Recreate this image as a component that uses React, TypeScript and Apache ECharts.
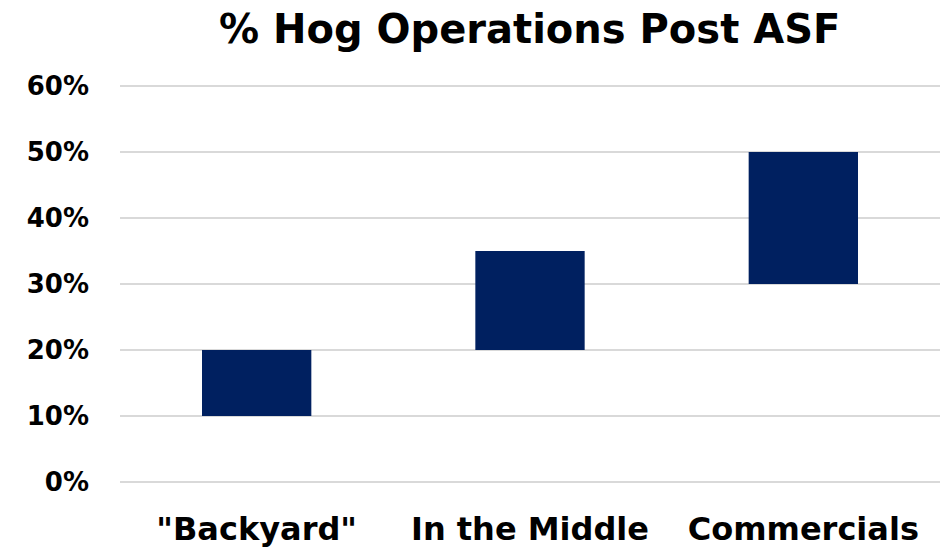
import React, { useEffect, useRef } from "react";
import * as echarts from "echarts";

const categories = ['"Backyard"', "In the Middle", "Commercials"];
const lowValues = [10, 20, 30];
const highValues = [20, 35, 50];
const yTicks = [0, 10, 20, 30, 40, 50, 60];

const FONT = "'DejaVu Sans', sans-serif";

export default function App() {
  const ref = useRef<HTMLDivElement>(null);
  useEffect(() => {
    if (!ref.current) return;
    const chart = echarts.init(ref.current, undefined, { renderer: "svg" });
    const spans = highValues.map((h, i) => h - lowValues[i]);
    chart.setOption({
      animation: false,
      title: {
        text: "% Hog Operations Post ASF",
        left: 214,
        top: 4,
        textStyle: { fontFamily: FONT, fontWeight: "bold", fontSize: 40, color: "#000" },
      },
      grid: { left: 120, right: 8, top: 86, bottom: 69, containLabel: false },
      xAxis: {
        type: "category",
        data: categories,
        axisLine: { show: false },
        axisTick: { show: false },
        axisLabel: {
          fontFamily: FONT,
          fontWeight: "bold",
          fontSize: 32,
          color: "#000",
          margin: 31,
          interval: 0,
        },
      },
      yAxis: {
        type: "value",
        min: yTicks[0],
        max: yTicks[yTicks.length - 1],
        interval: 10,
        axisLine: { show: false },
        axisTick: { show: false },
        splitLine: { lineStyle: { color: "#d9d9d9", width: 2 } },
        axisLabel: {
          formatter: (v: number) => `${v}%`,
          fontFamily: FONT,
          fontWeight: "bold",
          fontSize: 26,
          color: "#000",
          margin: 31,
        },
      },
      series: [
        {
          type: "bar",
          stack: "s",
          data: lowValues,
          itemStyle: { color: "transparent" },
          barWidth: "40%",
          silent: true,
        },
        {
          type: "bar",
          stack: "s",
          data: spans,
          itemStyle: { color: "#002060" },
          barWidth: "40%",
        },
      ],
    });
    return () => chart.dispose();
  }, []);
  return (
    <div
      ref={ref}
      style={{ position: "fixed", left: 0, top: 0, width: 948, height: 551, background: "#fff" }}
    />
  );
}
